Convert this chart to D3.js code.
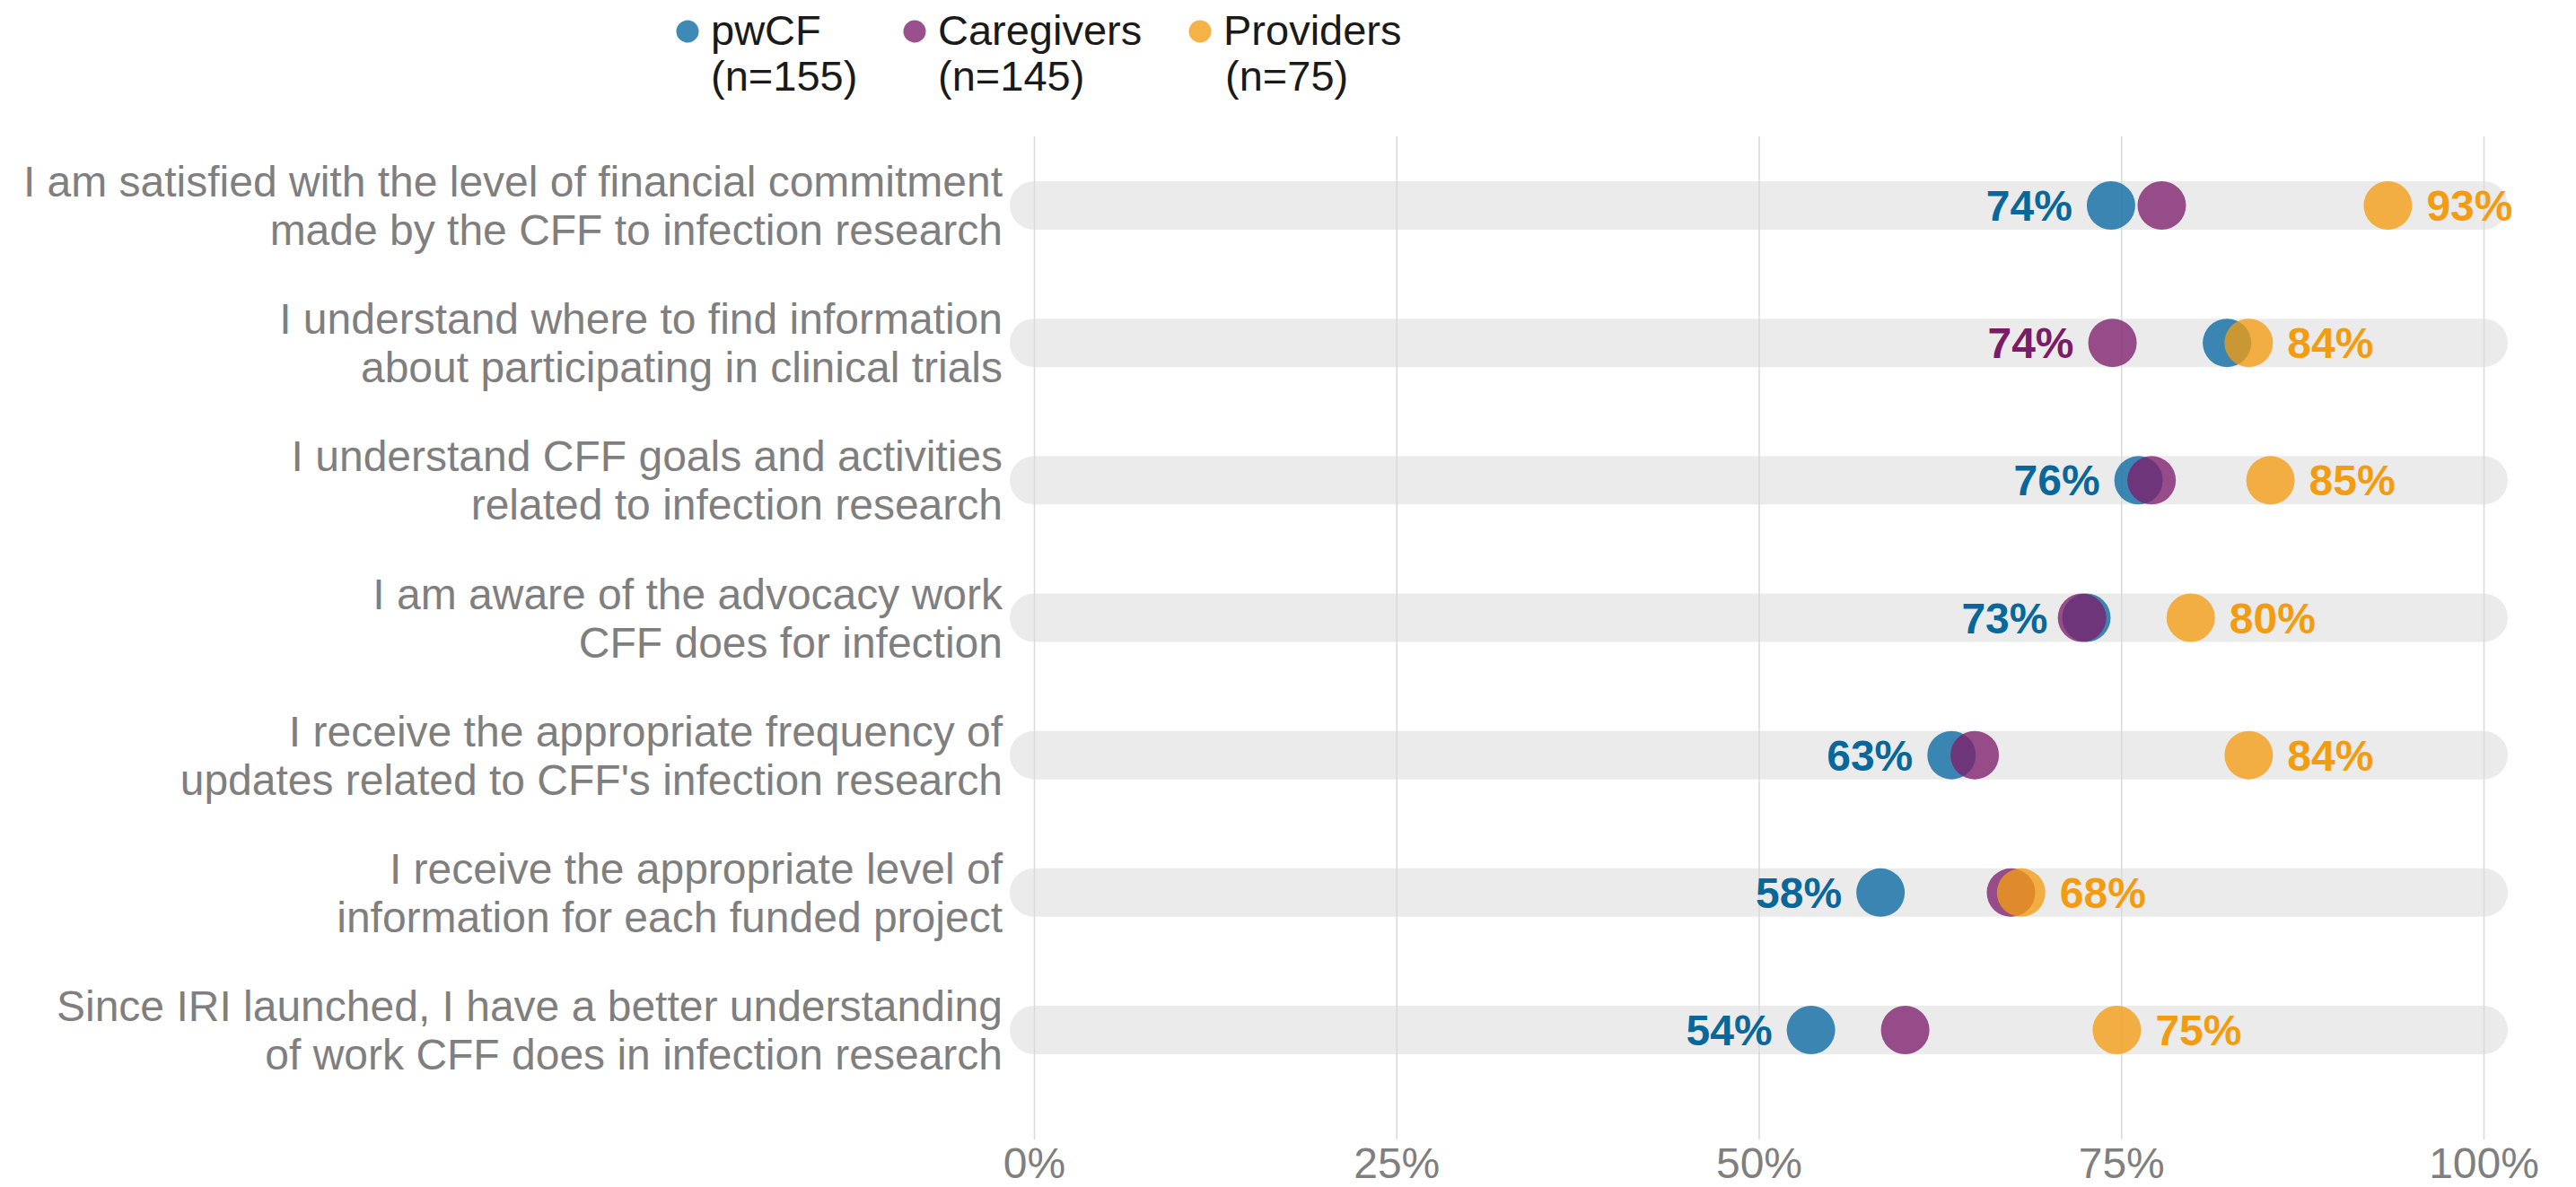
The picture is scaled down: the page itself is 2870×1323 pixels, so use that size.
<!DOCTYPE html>
<html>
<head>
<meta charset="utf-8">
<script src="https://cdn.jsdelivr.net/npm/d3@7"></script>
<style>
  body { margin: 0; background: #fff; }
  svg { display: block; font-family: "Liberation Sans", Arial, sans-serif; }
</style>
</head>
<body>
<svg id="chart" width="2870" height="1323"></svg>
<script>
// statements, two lines each
const statements = [
  ["I am satisfied with the level of financial commitment", "made by the CFF to infection research"],
  ["I understand where to find information", "about participating in clinical trials"],
  ["I understand CFF goals and activities", "related to infection research"],
  ["I am aware of the advocacy work", "CFF does for infection"],
  ["I receive the appropriate frequency of", "updates related to CFF's infection research"],
  ["I receive the appropriate level of", "information for each funded project"],
  ["Since IRI launched, I have a better understanding", "of work CFF does in infection research"]
];

const seriesNames = ["pwCF", "Caregivers", "Providers"];
const seriesN = ["(n=155)", "(n=145)", "(n=75)"];

const pwCF       = [74.3, 82.3, 76.2, 72.6, 63.3, 58.4, 53.6];
const caregivers = [77.8, 74.4, 77.1, 72.3, 64.9, 67.4, 60.1];
const providers  = [93.4, 83.8, 85.3, 79.8, 83.8, 68.1, 74.7];

// which series gets the label on the left / right of each row
const leftLabel  = ["pwCF", "Caregivers", "pwCF", "pwCF", "pwCF", "pwCF", "pwCF"];
const rightLabel = ["Providers", "Providers", "Providers", "Providers", "Providers", "Providers", "Providers"];

const tickValues = [0, 25, 50, 75, 100];

const dotColor = { pwCF: "#0868a0", Caregivers: "#7e1f6c", Providers: "#f39c12" };
const textColor = { pwCF: "#08679b", Caregivers: "#7b1c68", Providers: "#f39c12" };
const values = { pwCF: pwCF, Caregivers: caregivers, Providers: providers };

const svg = d3.select("#chart");
const r = 27;

let x = d3.scaleLinear().domain([0, 100]).range([1152, 2767]);
let y = d3.scalePoint().domain(d3.range(statements.length)).range([229, 1148]);

// background bars
svg.append("g").selectAll("rect").data(statements).join("rect")
  .attr("x", x(0) - r)
  .attr("y", (d, i) => y(i) - r)
  .attr("width", x(100) - x(0) + 2 * r)
  .attr("height", 2 * r)
  .attr("rx", r).attr("ry", r)
  .attr("fill", "#ebebeb");

// axis + gridlines
const gridTop = 152, gridBottom = 1270;
const axis = svg.append("g")
  .attr("transform", `translate(0,${gridBottom})`)
  .call(d3.axisBottom(x)
    .tickValues(tickValues)
    .tickFormat(d => d + "%")
    .tickSizeInner(-(gridBottom - gridTop))
    .tickSizeOuter(0)
    .tickPadding(9));
axis.select(".domain").remove();
axis.selectAll(".tick line").attr("stroke", "#d9d9d9").attr("stroke-width", 1.5);
axis.selectAll(".tick text")
  .attr("fill", "#7f7f7f")
  .attr("font-size", 48)
  .attr("font-family", "Liberation Sans, Arial, sans-serif");

// row labels
const rowLabels = svg.append("g").selectAll("text").data(statements).join("text")
  .attr("x", 1117)
  .attr("y", (d, i) => y(i) - 10)
  .attr("text-anchor", "end")
  .attr("fill", "#7f7f7f")
  .attr("font-size", 48);
rowLabels.selectAll("tspan").data(d => d).join("tspan")
  .attr("x", 1117)
  .attr("dy", (d, j) => j === 0 ? 0 : 54)
  .text(d => d);

// dots
seriesNames.forEach(s => {
  svg.append("g").selectAll("circle").data(values[s]).join("circle")
    .attr("cx", d => x(d))
    .attr("cy", (d, i) => y(i))
    .attr("r", r)
    .attr("fill", dotColor[s])
    .attr("fill-opacity", 0.78);
});

// value labels
const gap = 16;
svg.append("g").selectAll("text").data(leftLabel).join("text")
  .attr("x", (s, i) => x(values[s][i]) - r - gap)
  .attr("y", (s, i) => y(i) + 17)
  .attr("text-anchor", "end")
  .attr("font-size", 48)
  .attr("font-weight", "bold")
  .attr("fill", s => textColor[s])
  .text((s, i) => Math.round(values[s][i]) + "%");

svg.append("g").selectAll("text").data(rightLabel).join("text")
  .attr("x", (s, i) => x(values[s][i]) + r + gap)
  .attr("y", (s, i) => y(i) + 17)
  .attr("text-anchor", "start")
  .attr("font-size", 48)
  .attr("font-weight", "bold")
  .attr("fill", s => textColor[s])
  .text((s, i) => Math.round(values[s][i]) + "%");

// legend
const legendX = [766, 1019, 1337];
const legend = svg.append("g").selectAll("g").data(seriesNames).join("g")
  .attr("transform", (d, i) => `translate(${legendX[i]},0)`);
legend.append("circle")
  .attr("cx", 0).attr("cy", 35).attr("r", 12.5)
  .attr("fill", d => dotColor[d])
  .attr("fill-opacity", 0.78);
legend.append("text")
  .attr("x", 26).attr("y", 50)
  .attr("font-size", 47)
  .attr("fill", "#1a1a1a")
  .text(d => d);
legend.append("text")
  .attr("x", (d, i) => i === 2 ? 28 : 26).attr("y", 101)
  .attr("font-size", 47)
  .attr("fill", "#1a1a1a")
  .text((d, i) => seriesN[i]);
</script>
</body>
</html>
